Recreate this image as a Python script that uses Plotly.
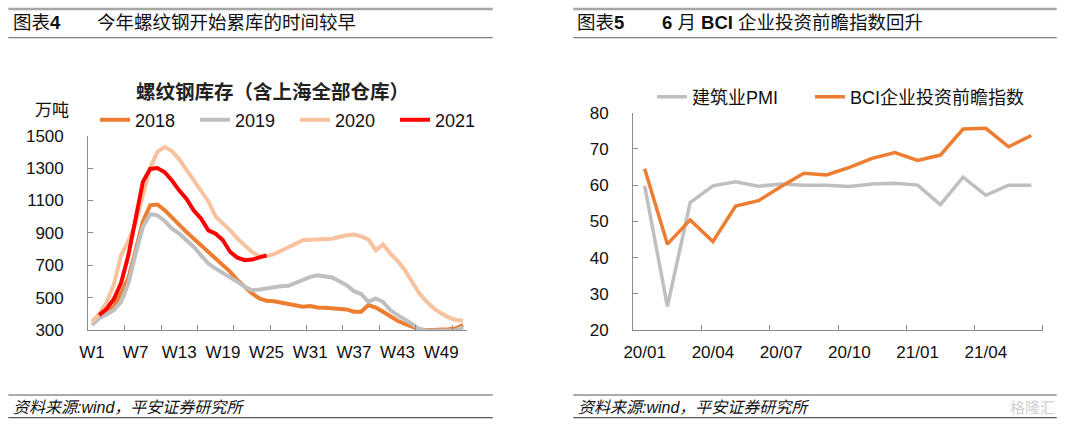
import plotly.graph_objects as go

# ---------------- data ----------------
weeks = list(range(1, 53))
week_labels = ["W%d" % w for w in range(1, 53, 6)]

y2018 = [351, 382, 407, 444, 525, 620, 790, 970, 1070, 1075, 1040, 993, 946, 905, 864, 823,
         782, 741, 700, 659, 608, 567, 526, 495, 480, 478, 468, 458, 454, 444, 448, 439,
         437, 433, 429, 427, 413, 413, 454, 439, 413, 382, 357, 337, 320, 304, 298, 298,
         300, 304, 310, 331]
y2019 = [331, 372, 396, 423, 474, 587, 770, 936, 1015, 1008, 973, 926, 895, 854, 813, 761,
         710, 679, 653, 628, 597, 567, 545, 550, 558, 567, 570, 573, 591, 614, 628, 638,
         634, 624, 601, 577, 540, 522, 474, 495, 474, 423, 392, 366, 337, 304, 296, 296,
         296, 296, 298, 318]
y2020 = [351, 400, 470, 580, 760, 850, 960, 1140, 1300, 1400, 1430, 1405, 1354, 1289, 1225, 1159,
         1094, 1001, 960, 915, 864, 823, 782, 755, 755, 768, 790, 809, 833, 854, 858, 858,
         858, 864, 874, 885, 889, 878, 858, 792, 829, 772, 727, 669, 597, 526, 474, 433,
         403, 378, 362, 357]
y2021 = [None, 392, 430, 490, 590, 760, 1000, 1215, 1295, 1300, 1274, 1223, 1161, 1110, 1038, 987,
         915, 895, 854, 782, 747, 731, 735, 751, 761] + [None] * 27

months = ["20/01", "20/02", "20/03", "20/04", "20/05", "20/06", "20/07", "20/08", "20/09",
          "20/10", "20/11", "20/12", "21/01", "21/02", "21/03", "21/04", "21/05", "21/06"]
pmi = [59.8, 26.5, 55.2, 59.8, 60.9, 59.7, 60.3, 60.0, 60.0, 59.6, 60.3, 60.5,
       60.0, 54.6, 62.2, 57.2, 60.0, 60.0]
bci = [64.5, 43.7, 50.4, 44.4, 54.2, 55.7, 59.6, 63.3, 62.8, 64.9, 67.4, 69.0,
       66.8, 68.3, 75.5, 75.7, 70.6, 73.7]

# ---------------- style ----------------
W, H = 1080, 427
FONT = "Liberation Sans, Arial, Noto Sans CJK SC, sans-serif"
AXIS = "#8C8C8C"
C2018 = "#ED7D31"
C2019 = "#BFBFBF"
C2020 = "#F8C29E"
C2021 = "#FF0000"


def px(x):
    return x / W


def py(y):
    return 1 - y / H


fig = go.Figure()

for name, ys, col in [("2018", y2018, C2018), ("2019", y2019, C2019),
                      ("2020", y2020, C2020), ("2021", y2021, C2021)]:
    fig.add_trace(go.Scatter(x=weeks, y=ys, name=name, mode="lines",
                             line=dict(color=col, width=4), xaxis="x", yaxis="y",
                             legend="legend", connectgaps=False, hoverinfo="skip"))

idx = list(range(len(months)))
fig.add_trace(go.Scatter(x=idx, y=pmi, name="建筑业PMI", mode="lines",
                         line=dict(color=C2019, width=3.5), xaxis="x2", yaxis="y2",
                         legend="legend2", hoverinfo="skip"))
fig.add_trace(go.Scatter(x=idx, y=bci, name="BCI企业投资前瞻指数", mode="lines",
                         line=dict(color=C2018, width=3.5), xaxis="x2", yaxis="y2",
                         legend="legend3", hoverinfo="skip"))

tickfont = dict(family=FONT, size=17, color="#111111")
legfont = dict(family=FONT, size=18, color="#111111")

fig.update_layout(
    width=W, height=H, autosize=False,
    margin=dict(l=0, r=0, t=0, b=0, pad=0, autoexpand=False),
    paper_bgcolor="white", plot_bgcolor="white",
    font=dict(family=FONT, color="#111111"),
    showlegend=True,
    xaxis=dict(domain=[px(88.3), px(466.7)], range=[0.5, 52.5], automargin=False,
               tickmode="array", tickvals=list(range(1, 53, 6)), ticktext=week_labels,
               ticks="", showline=True, linecolor=AXIS, linewidth=1.3,
               showgrid=False, zeroline=False, tickfont=tickfont, ticklabelstandoff=6,
               minor=dict(ticks="inside", tickmode="array",
                          tickvals=[w + 0.5 for w in range(5, 52, 5)],
                          ticklen=5, tickcolor=AXIS, tickwidth=1.3, showgrid=False),
               anchor="y", fixedrange=True),
    yaxis=dict(domain=[py(330), py(135.7)], range=[300, 1500], automargin=False,
               tickmode="array", tickvals=list(range(300, 1501, 200)),
               ticks="inside", ticklen=5, tickcolor=AXIS, tickwidth=1.3,
               showline=True, linecolor=AXIS, linewidth=1.3,
               showgrid=False, zeroline=False, tickfont=tickfont, ticklabelstandoff=20,
               anchor="x", fixedrange=True),
    xaxis2=dict(domain=[px(633.3), px(1042.7)], range=[-0.5, 17.5], automargin=False,
                tickmode="array", tickvals=list(range(0, 18, 3)),
                ticktext=[months[i] for i in range(0, 18, 3)],
                ticks="", showline=True, linecolor=AXIS, linewidth=1.3,
                showgrid=False, zeroline=False, tickfont=tickfont, ticklabelstandoff=6,
                minor=dict(ticks="inside", tickmode="array",
                           tickvals=[i - 0.5 for i in range(3, 19, 3)],
                           ticklen=5, tickcolor=AXIS, tickwidth=1.3, showgrid=False),
                anchor="y2", fixedrange=True),
    yaxis2=dict(domain=[py(330), py(112.7)], range=[20, 80], automargin=False,
                tickmode="array", tickvals=list(range(20, 81, 10)),
                ticks="inside", ticklen=5, tickcolor=AXIS, tickwidth=1.3,
                showline=True, linecolor=AXIS, linewidth=1.3,
                showgrid=False, zeroline=False, tickfont=tickfont, ticklabelstandoff=20,
                anchor="x2", fixedrange=True),
    legend=dict(orientation="h", x=px(95), y=py(120), xanchor="left", yanchor="middle",
                font=legfont, entrywidth=55, entrywidthmode="pixels",
                bgcolor="rgba(0,0,0,0)", borderwidth=0, itemclick=False, itemdoubleclick=False),
    legend2=dict(orientation="h", x=px(652), y=py(97), xanchor="left", yanchor="middle",
                 font=legfont, bgcolor="rgba(0,0,0,0)", borderwidth=0,
                 itemclick=False, itemdoubleclick=False),
    legend3=dict(orientation="h", x=px(810), y=py(97), xanchor="left", yanchor="middle",
                 font=legfont, bgcolor="rgba(0,0,0,0)", borderwidth=0,
                 itemclick=False, itemdoubleclick=False),
)

# ---------------- header / footer decorations ----------------
shapes = []
for x0, x1 in [(8.3, 492.7), (573.3, 1056.7)]:
    shapes.append(dict(type="line", xref="paper", yref="paper", x0=px(x0), x1=px(x1),
                       y0=py(9), y1=py(9), line=dict(color="#A6A6A6", width=2.5)))
    shapes.append(dict(type="line", xref="paper", yref="paper", x0=px(x0), x1=px(x1),
                       y0=py(37.7), y1=py(37.7), line=dict(color="#7F7F7F", width=1.2)))
    shapes.append(dict(type="line", xref="paper", yref="paper", x0=px(x0), x1=px(x1),
                       y0=py(395), y1=py(395), line=dict(color="#595959", width=1.2)))
    shapes.append(dict(type="line", xref="paper", yref="paper", x0=px(x0), x1=px(x1),
                       y0=py(417.7), y1=py(417.7), line=dict(color="#595959", width=1.2)))
fig.update_layout(shapes=shapes)

annos = [
    dict(text="图表<b>4</b>", x=px(11), y=py(23), size=18.5),
    dict(text="今年螺纹钢开始累库的时间较早", x=px(95), y=py(23), size=18.5),
    dict(text="图表<b>5</b>", x=px(575), y=py(23), size=18.5),
    dict(text="<b>6</b> 月 <b>BCI</b> 企业投资前瞻指数回升", x=px(660), y=py(23), size=18.5),
    dict(text="<i>资料来源:wind，平安证券研究所</i>", x=px(11), y=py(407), size=16),
    dict(text="<i>资料来源:wind，平安证券研究所</i>", x=px(576), y=py(407), size=16),
    dict(text="万吨", x=px(33), y=py(110), size=17),
]
for a in annos:
    fig.add_annotation(text=a["text"], x=a["x"], y=a["y"], xref="paper", yref="paper",
                       xanchor="left", yanchor="middle", showarrow=False,
                       font=dict(family=FONT, size=a["size"], color="#111111"))

fig.add_annotation(text="<b>螺纹钢库存（含上海全部仓库）</b>", x=px(272.5), y=py(92),
                   xref="paper", yref="paper", xanchor="center", yanchor="middle",
                   showarrow=False, font=dict(family=FONT, size=19.5, color="#222222"))
fig.add_annotation(text="格隆汇", x=px(1057), y=py(407), xref="paper", yref="paper",
                   xanchor="right", yanchor="middle", showarrow=False,
                   font=dict(family=FONT, size=15, color="#CFCFCF"))

fig.write_html("out.html", config={"displayModeBar": False, "staticPlot": False},
               post_script="document.body.style.margin='0px';document.body.style.padding='0px';")
